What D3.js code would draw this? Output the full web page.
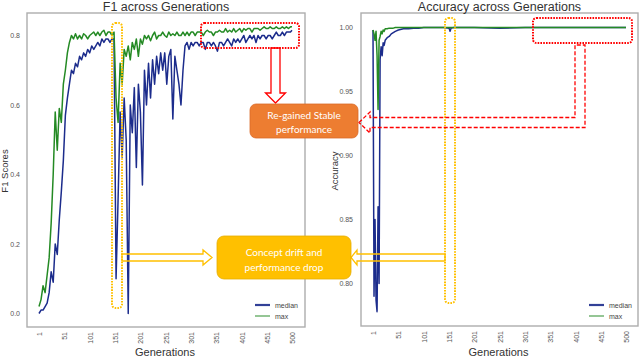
<!DOCTYPE html>
<html>
<head>
<meta charset="utf-8">
<script src="https://cdn.jsdelivr.net/npm/d3@7"></script>
<style>
  body { margin: 0; background: #fff; }
  svg { display: block; }
  .tick text { font-family: "Liberation Sans", Arial, sans-serif; font-size: 7px; fill: #555; }
  .domain { display: none; }
  .title { font-family: "Liberation Sans", Arial, sans-serif; font-size: 12.5px; fill: #333; text-anchor: middle; }
  .axis-label { font-family: "Liberation Sans", Arial, sans-serif; fill: #333; text-anchor: middle; }
  .legend text { font-family: "Liberation Sans", Arial, sans-serif; font-size: 7px; fill: #444; }
  .callout { font-family: Lato, "Open Sans", sans-serif; font-size: 10px; fill: #fff; text-anchor: middle; }
</style>
</head>
<body>
<script>
  // generation ticks shared by both panels
  const genTicks = [1, 51, 101, 151, 201, 251, 301, 351, 401, 451, 500];

  // F1 panel: sampled every 4 generations (+ last generation)
  const f1Gens = d3.range(1, 501, 4).concat([500]);
  const f1Max = [
    0.02, 0.04, 0.08, 0.06, 0.11, 0.16, 0.26, 0.40, 0.58, 0.47,
    0.59, 0.55, 0.66, 0.70, 0.75, 0.78, 0.80, 0.79, 0.805, 0.79,
    0.80, 0.79, 0.805, 0.80, 0.79, 0.80, 0.805, 0.81, 0.80, 0.81,
    0.80, 0.81, 0.815, 0.80, 0.81, 0.81, 0.80, 0.81, 0.62, 0.55,
    0.72, 0.66, 0.76, 0.74, 0.77, 0.73, 0.78, 0.76, 0.79, 0.74,
    0.79, 0.775, 0.80, 0.79, 0.80, 0.785, 0.80, 0.81, 0.79, 0.80,
    0.80, 0.81, 0.80, 0.795, 0.81, 0.80, 0.805, 0.80, 0.81, 0.80,
    0.80, 0.81, 0.80, 0.81, 0.80, 0.81, 0.81, 0.80, 0.81, 0.81,
    0.81, 0.80, 0.81, 0.815, 0.81, 0.81, 0.80, 0.81, 0.81, 0.815,
    0.81, 0.81, 0.82, 0.81, 0.815, 0.81, 0.82, 0.81, 0.815, 0.82,
    0.81, 0.82, 0.815, 0.82, 0.82, 0.81, 0.82, 0.82, 0.82, 0.815,
    0.82, 0.825, 0.82, 0.82, 0.825, 0.82, 0.82, 0.825, 0.82, 0.82,
    0.825, 0.82, 0.825, 0.82, 0.825, 0.825
  ];
  const f1Median = [
    0.00, 0.01, 0.01, 0.02, 0.03, 0.06, 0.12, 0.09, 0.20, 0.17,
    0.27, 0.35, 0.44, 0.57, 0.62, 0.66, 0.70, 0.69, 0.72, 0.71,
    0.74, 0.73, 0.75, 0.74, 0.76, 0.75, 0.77, 0.76, 0.77, 0.78,
    0.77, 0.79, 0.78, 0.79, 0.79, 0.78, 0.79, 0.79, 0.10, 0.33,
    0.58, 0.45, 0.62, 0.50, 0.00, 0.60, 0.52, 0.65, 0.42, 0.66,
    0.58, 0.37, 0.70, 0.60, 0.72, 0.62, 0.73, 0.66, 0.74, 0.69,
    0.75, 0.70, 0.75, 0.66, 0.74, 0.76, 0.56, 0.74, 0.70, 0.66,
    0.60, 0.70, 0.77, 0.78, 0.76, 0.78, 0.77, 0.78, 0.78, 0.77,
    0.78, 0.78, 0.76, 0.78, 0.78, 0.77, 0.78, 0.77, 0.755, 0.78,
    0.78, 0.77, 0.78, 0.79, 0.78, 0.77, 0.79, 0.78, 0.79, 0.78,
    0.79, 0.80, 0.78, 0.79, 0.80, 0.79, 0.80, 0.78, 0.80, 0.79,
    0.80, 0.80, 0.79, 0.80, 0.80, 0.79, 0.80, 0.81, 0.80, 0.80,
    0.81, 0.80, 0.81, 0.81, 0.81, 0.815
  ];

  // Accuracy panel: dense at the start, sparse once it settles at 1.0
  const accGens = [1, 3, 5, 7, 9, 11, 13, 15, 17, 19, 21, 23, 25, 29, 33, 37, 41, 45, 51,
    61, 71, 81, 91, 101, 121, 141, 151, 153, 155, 161, 201, 251, 301, 351, 401, 451, 500];
  const accMedian = [0.998, 0.79, 0.85, 0.787, 0.778, 0.86, 0.80, 0.975, 0.985, 0.978,
    0.988, 0.986, 0.99, 0.992, 0.993, 0.995, 0.996, 0.997, 0.998,
    0.999, 0.999, 0.9995, 0.9995, 1.0, 1.0, 1.0, 0.9995, 0.997, 0.9995, 1.0,
    1.0, 0.9995, 1.0, 1.0, 1.0, 1.0, 1.0];
  const accMax = [0.998, 0.995, 0.99, 0.997, 0.978, 0.936, 0.99, 0.993, 0.997, 0.995,
    0.998, 0.997, 0.999, 0.999, 0.9995, 0.9995, 0.9995, 1.0, 1.0,
    1.0, 1.0, 1.0, 1.0, 1.0, 1.0, 1.0, 1.0, 1.0, 1.0, 1.0,
    1.0, 1.0, 1.0, 1.0, 1.0, 1.0, 1.0];

  const seriesNames = ["median", "max"];
  const colors = { median: "#1c2c8c", max: "#248a24" };

  const svg = d3.select("body").append("svg")
    .attr("width", 640)
    .attr("height", 357);

  const drawPanel = (p) => {
    const g = svg.append("g");
    const x = d3.scaleLinear().domain([1, 500]).range(p.xRange);
    const y = d3.scaleLinear().domain(p.yDomain).range(p.yRange);

    // frame
    g.append("rect")
      .attr("x", p.frame[0]).attr("y", p.frame[1])
      .attr("width", p.frame[2] - p.frame[0]).attr("height", p.frame[3] - p.frame[1])
      .attr("fill", "none").attr("stroke", "#adadad").attr("stroke-width", 1.4);

    g.append("text").attr("class", "title")
      .attr("x", (p.frame[0] + p.frame[2]) / 2).attr("y", 11)
      .text(p.title);

    g.append("g")
      .attr("transform", `translate(${p.frame[0]},0)`)
      .call(d3.axisLeft(y).tickValues(p.yTicks).tickFormat(d3.format(p.yFmt)).tickSize(0).tickPadding(p.yPad));

    const xa = g.append("g")
      .attr("transform", `translate(0,${p.frame[3]})`)
      .call(d3.axisBottom(x).tickValues(genTicks).tickFormat(d3.format("d")).tickSize(0));
    xa.selectAll(".tick text")
      .attr("transform", "rotate(-90)")
      .attr("text-anchor", "end")
      .attr("x", -5).attr("y", 0).attr("dy", "0.35em");

    g.append("text").attr("class", "axis-label")
      .attr("x", (p.frame[0] + p.frame[2]) / 2 - 1).attr("y", 355.5)
      .style("font-size", "11px")
      .text("Generations");

    g.append("text").attr("class", "axis-label")
      .attr("transform", `translate(${p.yLabelX},171) rotate(-90)`)
      .style("font-size", "9.5px")
      .text(p.yLabel);

    const line = d3.line()
      .x(d => x(d[0]))
      .y(d => y(d[1]));

    seriesNames.forEach(name => {
      const pts = p.gens.map((gen, i) => [gen, p.values[name][i]]);
      g.append("path")
        .datum(pts)
        .attr("fill", "none")
        .attr("stroke", colors[name])
        .attr("stroke-width", 1.5)
        .attr("stroke-linejoin", "round")
        .attr("d", line);
    });

    // legend
    const lg = g.append("g").attr("class", "legend");
    seriesNames.forEach((name, i) => {
      const ly = 305 + i * 11;
      lg.append("line")
        .attr("x1", p.legendX).attr("x2", p.legendX + 15)
        .attr("y1", ly).attr("y2", ly)
        .attr("stroke", colors[name]).attr("stroke-width", name === "median" ? 2.2 : 1.6)
        .attr("opacity", name === "median" ? 0.9 : 0.6);
      lg.append("text")
        .attr("x", p.legendX + 20).attr("y", ly + 2.5)
        .text(name);
    });
  };

  drawPanel({
    title: "F1 across Generations",
    frame: [27, 13, 305, 327],
    xRange: [39, 292],
    yDomain: [0, 0.8], yRange: [313.5, 35.5],
    yTicks: [0, 0.2, 0.4, 0.6, 0.8], yFmt: ".1f", yPad: 7,
    yLabel: "F1 Scores", yLabelX: 8,
    gens: f1Gens,
    values: { median: f1Median, max: f1Max },
    legendX: 255
  });

  drawPanel({
    title: "Accuracy across Generations",
    frame: [361, 13, 638, 326],
    xRange: [373, 626],
    yDomain: [0.8, 1.0], yRange: [283.5, 27.5],
    yTicks: [0.8, 0.85, 0.9, 0.95, 1.0], yFmt: ".2f", yPad: 8,
    yLabel: "Accuracy", yLabelX: 338,
    gens: accGens,
    values: { median: accMedian, max: accMax },
    legendX: 589
  });

  // ---- annotations ----
  const ann = svg.append("g");
  const yellow = "#ffc000", red = "#ff0000", orange = "#ed7d31";

  // dotted highlight boxes
  const dotted = (x0, y0, x1, y1, color) => ann.append("rect")
    .attr("x", x0).attr("y", y0).attr("width", x1 - x0).attr("height", y1 - y0)
    .attr("rx", 3.5)
    .attr("fill", "none").attr("stroke", color).attr("stroke-width", 2)
    .attr("stroke-dasharray", "1.6,1.2");
  dotted(112, 23, 122, 308, yellow);
  dotted(445, 18, 455, 303, yellow);
  dotted(201, 23, 299, 48, red);
  dotted(533, 18, 632, 43, red);

  const outline = (pts, color, dash) => ann.append("path")
    .attr("d", d3.line()(pts) + "Z")
    .attr("fill", "none").attr("stroke", color).attr("stroke-width", 1.3)
    .attr("stroke-dasharray", dash || null);

  // red hollow arrow pointing down to the callout
  outline([[271, 48], [280, 48], [280, 93], [285.5, 93], [275.5, 103], [265.5, 93], [271, 93]], red);
  // red dashed arrow from the right panel box to the callout
  outline([[359, 122.5], [370, 112], [370, 117.5], [575, 117.5], [575, 45], [585, 45],
    [585, 127.5], [370, 127.5], [370, 133]], red, "4,2");

  // yellow hollow arrows toward the drift callout
  outline([[122, 254], [203, 254], [203, 250], [212, 257.5], [203, 265], [203, 261], [122, 261]], yellow);
  outline([[445, 254], [357, 254], [357, 250], [351, 257.5], [357, 265], [357, 261], [445, 261]], yellow);

  // callout boxes
  ann.append("rect")
    .attr("x", 250).attr("y", 104).attr("width", 108).attr("height", 34).attr("rx", 6)
    .attr("fill", orange).attr("stroke", "#d9692a").attr("stroke-width", 0.8);
  ann.append("text").attr("class", "callout").attr("x", 304).attr("y", 118.5).text("Re-gained Stable");
  ann.append("text").attr("class", "callout").attr("x", 304).attr("y", 133).text("performance");

  ann.append("rect")
    .attr("x", 217).attr("y", 236).attr("width", 134).attr("height", 43).attr("rx", 7)
    .attr("fill", yellow).attr("stroke", "#e6ad00").attr("stroke-width", 0.8);
  ann.append("text").attr("class", "callout").attr("x", 284).attr("y", 255.5).text("Concept drift and");
  ann.append("text").attr("class", "callout").attr("x", 284).attr("y", 270.5).text("performance drop");
</script>
</body>
</html>
